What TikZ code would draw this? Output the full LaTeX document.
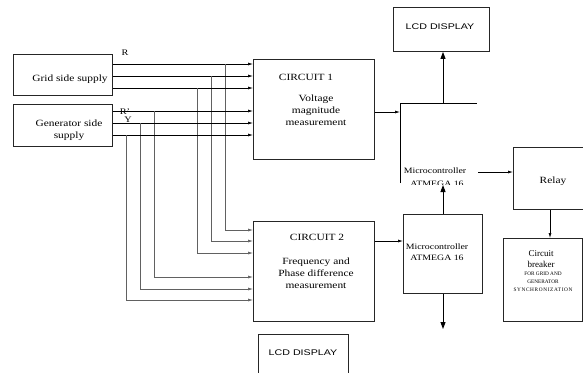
\documentclass[tikz,border=0pt]{standalone}
\usepackage{fontspec}
\setmainfont{Liberation Serif}[FakeStretch=1.2]
\newfontfamily\plainserif{Liberation Serif}
\newfontfamily\lcdfont{Liberation Sans}[FakeStretch=1.3]
\usetikzlibrary{arrows.meta}
\tikzset{
  blk/.style={draw=black!85, line width=0.9pt, anchor=north west, inner sep=0pt},
  feed/.style={-{Latex[length=5pt,width=3pt]}, line width=0.65pt},
  tap/.style={draw=black!62, line width=0.9pt},
  bigarr/.style={-{Triangle[length=7pt,width=5pt]}, line width=0.9pt},
  lbl/.style={font=\fontsize{9.5}{12}\selectfont, align=center, inner sep=0pt},
  lcdlbl/.style={font=\lcdfont\fontsize{8.2}{10}\selectfont, inner sep=0pt},
}

\begin{document}
\begin{tikzpicture}[x=1pt, y=-1pt]
  \useasboundingbox (0,0) rectangle (583,372);

  % Supplies (left)
  \node[blk, minimum width=99pt, minimum height=41pt] (grid) at (13,54) {};
  \node[blk, minimum width=99pt, minimum height=42pt] (gen) at (13,104) {};
  \node[lbl] (gridtxt) at (70,79) {Grid side supply};
  \node[lbl] (gentxt) at (69,130) {Generator side\\supply};
  \node[font=\fontsize{8.5}{9}\selectfont, inner sep=0pt] (lblR) at (125,53) {R};
  \node[font=\fontsize{8.5}{9}\selectfont, inner sep=0pt] (lblRp) at (125,112) {R'};
  \node[font=\fontsize{8.5}{9}\selectfont, inner sep=0pt] (lblY) at (128,120) {Y};

  % Measuring circuits
  \node[blk, minimum width=121pt, minimum height=100pt] (cA) at (253,59) {};
  \node[blk, minimum width=121pt, minimum height=100pt] (cB) at (253,221) {};
  \node[lbl] (cAtitle) at (306,77) {CIRCUIT 1};
  \node[lbl] (cAtxt) at (316,110) {Voltage\\magnitude\\measurement};
  \node[lbl] (cBtitle) at (317,237) {CIRCUIT 2};
  \node[lbl] (cBtxt) at (316,273) {Frequency and\\Phase difference\\measurement};

  % grid side feeds
  \foreach \y/\x/\z in {64/225/230, 76/211/241, 88/197/253} {
    \draw[feed] (grid.east |- 0,\y) -- (cA.west |- 0,\y);
    \draw[tap, feed] (\x,\y) |- (cB.west |- 0,\z);
  }
  % generator side feeds
  \foreach \y/\x/\z in {111/154/277, 123/140/289, 135/126/300} {
    \draw[feed] (gen.east |- 0,\y) -- (cA.west |- 0,\y);
    \draw[tap, feed] (\x,\y) |- (cB.west |- 0,\z);
  }

  % Microcontroller (upper, open box)
  \coordinate (mcAcorner) at (400,103);
  \coordinate (mcAbottom) at (400,183);
  \coordinate (mcAright) at (477,103);
  \coordinate (mcAup) at (443,103);
  \coordinate (mcAlow) at (443,185);
  \draw[line width=0.9pt] (mcAbottom) -- (mcAcorner) -- (mcAright);
  \node[lbl, font=\fontsize{8.2}{10}\selectfont] (mcAtxt) at (435,171) {Microcontroller};
  \begin{scope}
    \clip (400,175) rectangle (480,184.5);
    \node[lbl, font=\fontsize{8.2}{10}\selectfont] (mcAtxt2) at (437,184) {ATMEGA 16};
  \end{scope}
  \coordinate (mcAout) at (478,172);

  % Microcontroller (lower)
  \node[blk, minimum width=79pt, minimum height=79pt] (mcB) at (403,214) {};
  \node[lbl, font=\fontsize{8.2}{11}\selectfont] (mcBtxt) at (437,252) {Microcontroller\\ATMEGA 16};
  \coordinate (mcBdown) at (443,329);

  % Displays
  \node[blk, minimum width=96pt, minimum height=44pt] (lcdA) at (393,7) {};
  \node[lcdlbl] (lcdAtxt) at (440,27) {LCD DISPLAY};
  \node[blk, minimum width=90pt, minimum height=45pt] (lcdB) at (258,334) {};
  \node[lcdlbl] (lcdBtxt) at (303,353) {LCD DISPLAY};

  % Relay and breaker
  \node[blk, minimum width=70pt, minimum height=62pt] (relay) at (513,147) {};
  \node[lbl, font=\fontsize{9.5}{11}\selectfont] (relaytxt) at (553,181) {Relay};
  \node[blk, minimum width=79pt, minimum height=83pt] (cb) at (503,238) {};
  \node[lbl, font=\plainserif\fontsize{9}{11.5}\selectfont] (cbtxt) at (541,259) {Circuit\\breaker};
  \node[lbl, font=\plainserif\fontsize{5.3}{7.8}\selectfont] (cbsub) at (543,282)
    {FOR GRID AND\\GENERATOR\\\addfontfeature{LetterSpace=12}SYNCHRONIZATION};

  % Connections
  \draw[feed] (cA.east |- 0,112) -- (mcAcorner |- 0,112);
  \draw[feed] (cB.east |- 0,241) -- (mcB.west |- 0,241);
  \draw[bigarr] (mcAup) -- (mcAup |- lcdA.south);
  \draw[bigarr] (mcB.north -| mcAlow) -- (mcAlow);
  \draw[bigarr] (mcB.south -| mcBdown) -- (mcBdown);
  \draw[feed] (mcAout) -- (relay.west |- mcAout);
  \draw[feed] (relay.south -| 550,0) -- (cb.north -| 550,0);
\end{tikzpicture}
\end{document}
